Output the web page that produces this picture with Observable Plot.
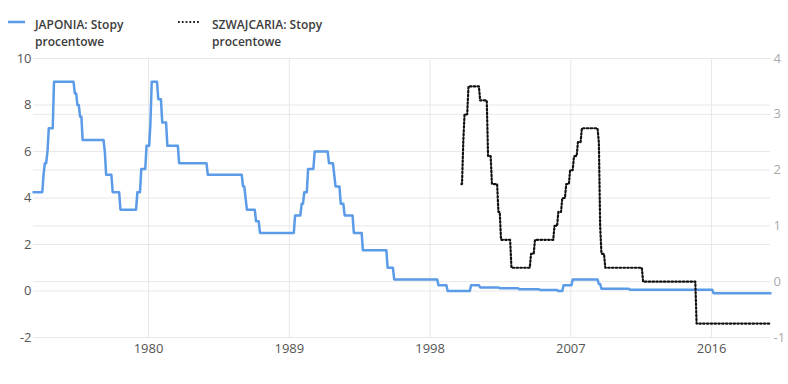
<!DOCTYPE html>
<html>
<head>
<meta charset="utf-8">
<script src="https://cdn.jsdelivr.net/npm/d3@7"></script>
<script src="https://cdn.jsdelivr.net/npm/@observablehq/plot@0.6"></script>
<style>
  html, body { margin: 0; padding: 0; background: #fff; }
  #wrap { width: 788px; height: 384px; position: relative; overflow: hidden; font-family: "Open Sans", sans-serif; }
  #legend { position: relative; height: 48px; width: 788px; color: #3c3c3c; font-size: 12px; font-weight: 600; }
  .item { position: absolute; top: 17px; line-height: 16.5px; }
  .sw { position: absolute; }
  svg { display: block; }
</style>
</head>
<body>
<div id="wrap">
  <div id="legend">
    <svg class="sw" style="left:8px;top:17px" width="18" height="10"><line x1="0" y1="5" x2="17" y2="5" stroke="#5b9be8" stroke-width="2.5"/></svg>
    <div class="item" style="left:35px">JAPONIA: Stopy<br>procentowe</div>
    <svg class="sw" style="left:178px;top:17px" width="22" height="10"><line x1="0" y1="5" x2="21" y2="5" stroke="#222" stroke-width="2.2" stroke-dasharray="1.8 2"/></svg>
    <div class="item" style="left:212px">SZWAJCARIA: Stopy<br>procentowe</div>
  </div>
  <div id="chart"></div>
</div>
<script>
// Japan: interest rate (%), left axis — change dates and new values
const japanDates = ["1972-08-24","1973-04","1973-05","1973-07","1973-08","1973-12","1975-04","1975-06","1975-08","1975-10",
  "1977-03","1977-04","1977-09","1978-03","1979-04","1979-07","1979-11","1980-02","1980-03","1980-08","1980-11",
  "1981-03","1981-12","1983-10","1986-01","1986-03","1986-04","1986-11","1987-02","1989-05","1989-10","1989-12",
  "1990-03","1990-08","1991-07","1991-11","1991-12","1992-04","1992-07","1993-02","1993-09","1995-04","1995-09",
  "1998-07","1999-02","2000-08","2001-03","2002-06","2003-09","2005-01","2006-03","2006-07","2007-02","2008-10",
  "2008-12","2010-10","2016-02","2019-10-08"];
const japanRates = [4.25,5.0,5.5,6.0,7.0,9.0,8.5,8.0,7.5,6.5,
  6.0,5.0,4.25,3.5,4.25,5.25,6.25,7.25,9.0,8.25,7.25,
  6.25,5.5,5.0,4.5,4.0,3.5,3.0,2.5,3.25,3.75,4.25,
  5.25,6.0,5.5,5.0,4.5,3.75,3.25,2.5,1.75,1.0,0.5,
  0.25,0.0,0.25,0.15,0.12,0.08,0.04,0.0,0.25,0.5,0.3,
  0.1,0.05,-0.1,-0.1];

// Switzerland: interest rate (%), right axis
const swissDates = ["2000-01","2000-02","2000-03","2000-06","2001-03","2001-09","2001-12","2002-05","2002-07","2003-03",
  "2004-06","2004-09","2005-12","2006-03","2006-06","2006-09","2006-12","2007-03","2007-06","2007-09",
  "2008-10","2008-11","2008-12","2009-03","2011-08","2015-01","2019-10-08"];
const swissRates = [1.75,2.5,3.0,3.5,3.25,2.25,1.75,1.25,0.75,0.25,
  0.5,0.75,1.0,1.25,1.5,1.75,2.0,2.25,2.5,2.75,
  2.5,1.0,0.5,0.25,0.0,-0.75,-0.75];

const xTickYears = [1980, 1989, 1998, 2007, 2016];
const leftTicks = [-2, 0, 2, 4, 6, 8, 10];
const rightTicks = [-1, 0, 1, 2, 3, 4];

const parse = s => new Date(s.length === 7 ? s + "-01T00:00:00Z" : s + "T00:00:00Z");
const DAY = 86400000;
// Each change is drawn as a short one-month ramp, like a monthly series joined by lines
function ramped(dates, values) {
  const out = [];
  dates.forEach((d, i) => {
    const t = parse(d).getTime();
    if (i > 0 && i < dates.length - 1) {
      out.push({date: new Date(t - 15 * DAY), value: values[i - 1]});
      out.push({date: new Date(t + 15 * DAY), value: values[i]});
    } else {
      out.push({date: new Date(t), value: values[i]});
    }
  });
  return out;
}
const japan = ramped(japanDates, japanRates);
const swiss = ramped(swissDates, swissRates);
const xTicks = xTickYears.map(y => new Date(Date.UTC(y, 0, 1)));
// map right-axis values onto the left scale (4 ↔ 10, -1 ↔ -2)
const toLeft = r => 2.4 * r + 0.4;
const fromLeft = v => Math.round((v - 0.4) / 2.4);

const chart = Plot.plot({
  width: 788,
  height: 336,
  marginTop: 10,
  marginBottom: 47,
  marginLeft: 33,
  marginRight: 18,
  style: {fontFamily: "Open Sans, sans-serif", fontSize: "13px", background: "#fff", overflow: "visible"},
  x: {type: "utc", domain: [parse("1972-08-24"), parse("2019-10-08")]},
  y: {domain: [-2, 10]},
  marks: [
    Plot.gridX(xTicks, {stroke: "#e8e8e8", strokeOpacity: 1}),
    Plot.gridY(leftTicks, {stroke: "#e8e8e8", strokeOpacity: 1}),
    Plot.gridY(rightTicks.map(toLeft), {stroke: "#e8e8e8", strokeOpacity: 1}),
    Plot.axisX(xTicks, {tickSize: 0, tickPadding: 6, tickFormat: d3.utcFormat("%Y"), fill: "#555", label: null}),
    Plot.axisY(leftTicks, {anchor: "left", tickSize: 0, tickPadding: 2, tickFormat: d => String(d), fill: "#555", label: null}),
    Plot.axisY(rightTicks.map(toLeft), {anchor: "right", tickSize: 0, tickPadding: 3, tickFormat: v => String(fromLeft(v)), fill: "#aaa", label: null}),
    Plot.line(japan, {x: "date", y: "value", stroke: "#5b9be8", strokeWidth: 2.5}),
    Plot.line(swiss, {x: "date", y: d => toLeft(d.value), stroke: "#111", strokeWidth: 2.2, strokeDasharray: "1.6 2.2"})
  ]
});
document.getElementById("chart").appendChild(chart);
</script>
</body>
</html>
